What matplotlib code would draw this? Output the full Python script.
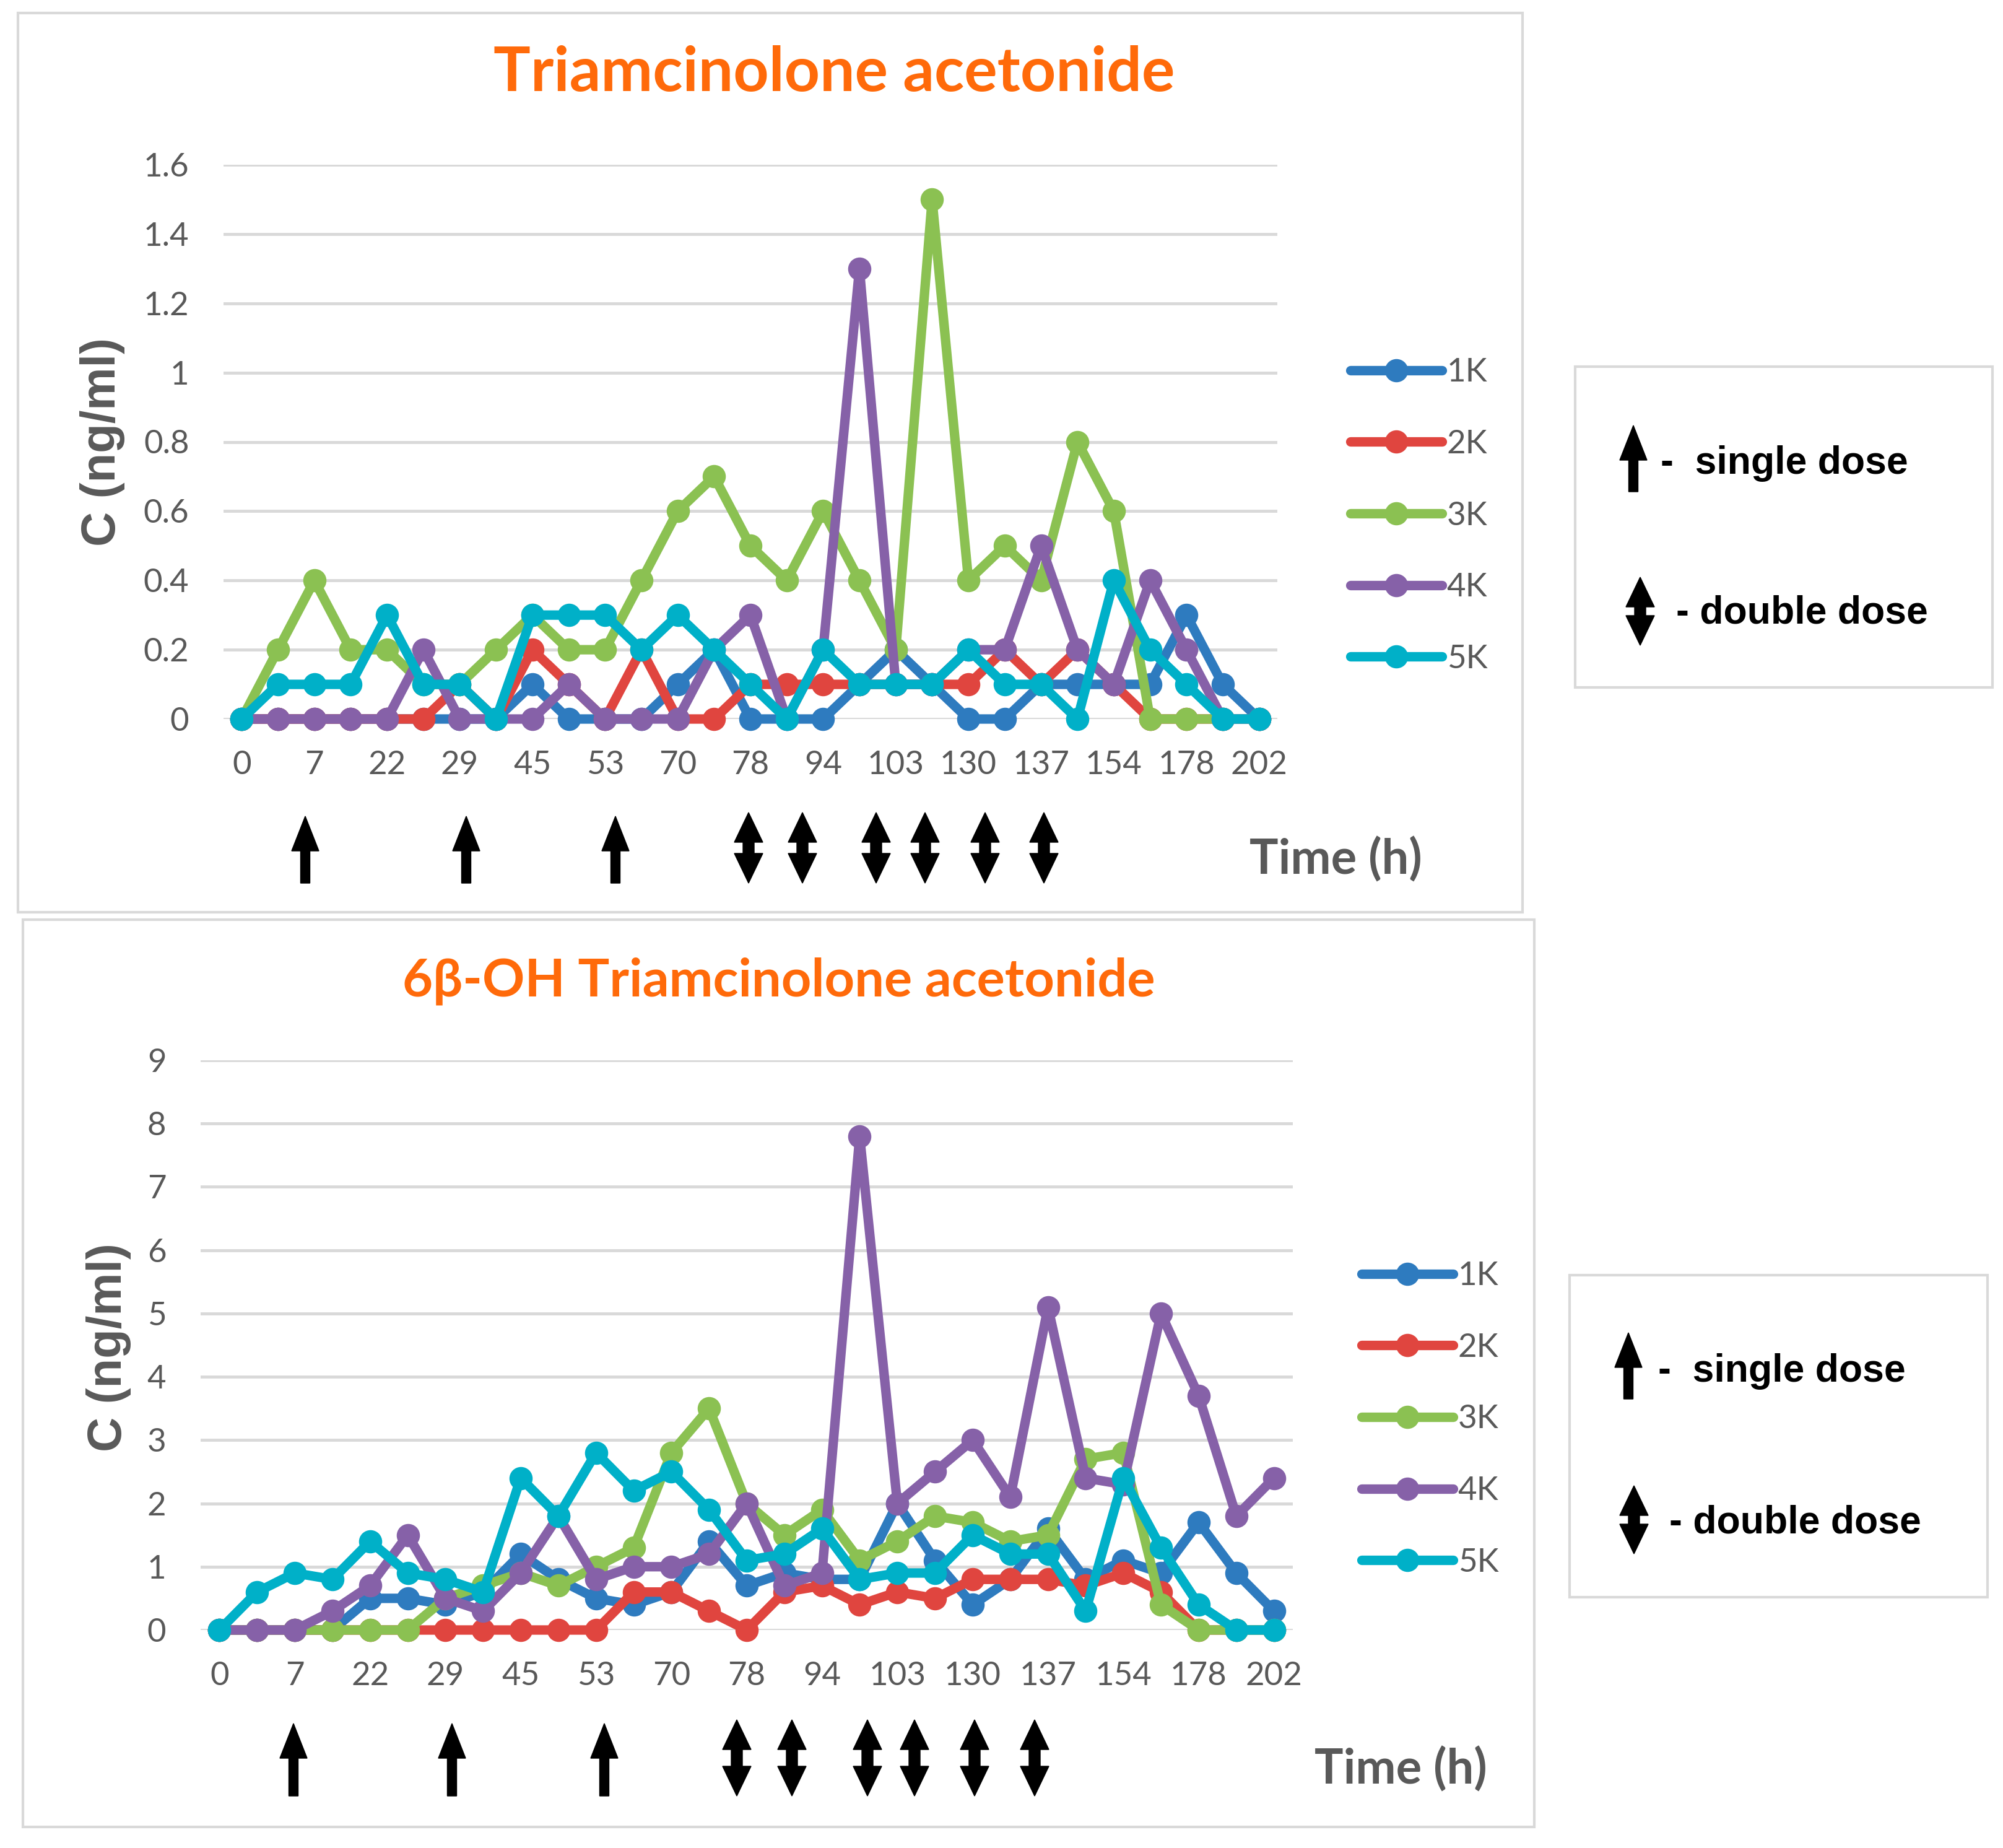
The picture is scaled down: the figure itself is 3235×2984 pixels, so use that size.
import numpy as np
import matplotlib
matplotlib.use("Agg")
import matplotlib.pyplot as plt
from matplotlib.patches import Polygon, Rectangle
from matplotlib.ticker import FormatStrFormatter

# Подписи оси времени (показаны через одну категорию, как в Excel)
time_labels = ["0", "7", "22", "29", "45", "53", "70", "78", "94", "103",
               "130", "137", "154", "178", "202"]
series_names = ["1K", "2K", "3K", "4K", "5K"]
colors = ["#2E7BBF", "#E0453F", "#8BC152", "#8661A8", "#00B0C8"]

# Triamcinolone acetonide, нг/мл
ta_1K = [0, 0, 0, 0, 0, 0, 0, 0, 0.1, 0, 0, 0, 0.1, 0.2, 0, 0, 0, 0.1, 0.2, 0.1,
         0, 0, 0.1, 0.1, 0.1, 0.1, 0.3, 0.1, 0]
ta_2K = [0, 0, 0, 0, 0, 0, 0.1, 0, 0.2, 0.1, 0, 0.2, 0, 0, 0.1, 0.1, 0.1, 0.1, 0.1, 0.1,
         0.1, 0.2, 0.1, 0.2, 0.1, 0, 0, 0, 0]
ta_3K = [0, 0.2, 0.4, 0.2, 0.2, 0.1, 0.1, 0.2, 0.3, 0.2, 0.2, 0.4, 0.6, 0.7, 0.5, 0.4, 0.6, 0.4, 0.2, 1.5,
         0.4, 0.5, 0.4, 0.8, 0.6, 0, 0, 0, 0]
ta_4K = [0, 0, 0, 0, 0, 0.2, 0, 0, 0, 0.1, 0, 0, 0, 0.2, 0.3, 0, 0.2, 1.3, 0.1, 0.1,
         0.2, 0.2, 0.5, 0.2, 0.1, 0.4, 0.2, 0, 0]
ta_5K = [0, 0.1, 0.1, 0.1, 0.3, 0.1, 0.1, 0, 0.3, 0.3, 0.3, 0.2, 0.3, 0.2, 0.1, 0, 0.2, 0.1, 0.1, 0.1,
         0.2, 0.1, 0.1, 0, 0.4, 0.2, 0.1, 0, 0]

# 6β-OH Triamcinolone acetonide, нг/мл
oh_1K = [0, 0, 0, 0, 0.5, 0.5, 0.4, 0.6, 1.2, 0.8, 0.5, 0.4, 0.6, 1.4, 0.7, 0.9, 0.8, 0.8, 2.0, 1.1,
         0.4, 0.8, 1.6, 0.8, 1.1, 0.9, 1.7, 0.9, 0.3]
oh_2K = [0, 0, 0, 0, 0, 0, 0, 0, 0, 0, 0, 0.6, 0.6, 0.3, 0, 0.6, 0.7, 0.4, 0.6, 0.5,
         0.8, 0.8, 0.8, 0.7, 0.9, 0.6, 0, 0, 0]
oh_3K = [0, 0, 0, 0, 0, 0, 0.5, 0.7, 0.9, 0.7, 1.0, 1.3, 2.8, 3.5, 2.0, 1.5, 1.9, 1.1, 1.4, 1.8,
         1.7, 1.4, 1.5, 2.7, 2.8, 0.4, 0, 0, 0]
oh_4K = [0, 0, 0, 0.3, 0.7, 1.5, 0.5, 0.3, 0.9, 1.8, 0.8, 1.0, 1.0, 1.2, 2.0, 0.7, 0.9, 7.8, 2.0, 2.5,
         3.0, 2.1, 5.1, 2.4, 2.3, 5.0, 3.7, 1.8, 2.4]
oh_5K = [0, 0.6, 0.9, 0.8, 1.4, 0.9, 0.8, 0.6, 2.4, 1.8, 2.8, 2.2, 2.5, 1.9, 1.1, 1.2, 1.6, 0.8, 0.9, 0.9,
         1.5, 1.2, 1.2, 0.3, 2.4, 1.3, 0.4, 0, 0]

W, H = 3235, 2984
GRAY = "#595959"
ORANGE = "#FF6A0A"
BORDER = "#D9D9D9"

fig = plt.figure(figsize=(W / 100, H / 100), dpi=100)
fig.patch.set_facecolor("white")


def fx(px):
    return px / W


def fy(py):
    return 1 - py / H


def rect_px(x0, y0, x1, y1, lw=3):
    fig.patches.append(Rectangle((fx(x0), fy(y1)), fx(x1) - fx(x0), fy(y0) - fy(y1),
                                 transform=fig.transFigure, fill=False,
                                 edgecolor=BORDER, linewidth=lw))


def up_arrow(cx, y_top, y_bot, hw=44, hl=56, sw=15):
    pts = [(cx, y_top), (cx + hw / 2, y_top + hl), (cx + sw / 2, y_top + hl),
           (cx + sw / 2, y_bot), (cx - sw / 2, y_bot), (cx - sw / 2, y_top + hl),
           (cx - hw / 2, y_top + hl)]
    fig.patches.append(Polygon([(fx(x), fy(y)) for x, y in pts], closed=True,
                               transform=fig.transFigure, color="black"))


def double_arrow(cx, y_top, y_bot, hw=46, hl=48, sw=18):
    pts = [(cx, y_top), (cx + hw / 2, y_top + hl), (cx + sw / 2, y_top + hl),
           (cx + sw / 2, y_bot - hl), (cx + hw / 2, y_bot - hl), (cx, y_bot),
           (cx - hw / 2, y_bot - hl), (cx - sw / 2, y_bot - hl),
           (cx - sw / 2, y_top + hl), (cx - hw / 2, y_top + hl)]
    fig.patches.append(Polygon([(fx(x), fy(y)) for x, y in pts], closed=True,
                               transform=fig.transFigure, color="black"))


def make_chart(box, data, ymax, ystep, title, title_xy, title_size,
               ylabel_xy, legend_xy, time_xy, singles, doubles, arr_y,
               dose_box, dose_items):
    x0, y0, x1, y1 = box
    ax = fig.add_axes([fx(x0), fy(y1), fx(x1) - fx(x0), fy(y0) - fy(y1)])
    n = len(data[0])
    x = np.arange(n)
    for vals, name, c in zip(data, series_names, colors):
        ax.plot(x, vals, color=c, lw=11, marker="o", ms=26, mfc=c, mec=c,
                label=name, clip_on=False, zorder=3, solid_capstyle="round",
                solid_joinstyle="round")
    ax.set_xlim(-0.5, n - 0.5)
    ax.set_ylim(0, ymax)
    ax.set_yticks(np.arange(0, ymax + ystep / 2, ystep))
    ax.yaxis.set_major_formatter(FormatStrFormatter("%g"))
    ax.set_xticks(np.arange(0, n, 2))
    ax.set_xticklabels(time_labels)
    ax.yaxis.grid(True, color=BORDER, lw=3.5)
    ax.set_axisbelow(True)
    for s in ax.spines.values():
        s.set_visible(False)
    ax.tick_params(axis="both", length=0, colors=GRAY, labelsize=38)
    ax.tick_params(axis="y", pad=40)
    ax.tick_params(axis="x", pad=37)
    for lab in ax.get_xticklabels() + ax.get_yticklabels():
        lab.set_family("Lato")

    fig.text(fx(title_xy[0]), fy(title_xy[1]), title, color=ORANGE,
             fontsize=title_size, fontweight="bold", family="Lato",
             ha="center", va="center")
    fig.text(fx(ylabel_xy[0]), fy(ylabel_xy[1]), "C (ng/ml)", color=GRAY,
             fontsize=56, fontweight="bold", family="Liberation Sans",
             rotation=90, ha="center", va="center")
    fig.text(fx(time_xy[0]), fy(time_xy[1]), "Time (h)", color=GRAY,
             fontsize=56, fontweight="bold", family="Lato",
             ha="left", va="center")

    leg = ax.legend(loc="center left", bbox_to_anchor=(fx(legend_xy[0]), fy(legend_xy[1])),
                    bbox_transform=fig.transFigure, frameon=False, fontsize=38,
                    handlelength=2.8, handletextpad=0.15, labelspacing=1.3,
                    borderpad=0, borderaxespad=0, markerscale=1.0)
    for t in leg.get_texts():
        t.set_color(GRAY)
        t.set_family("Lato")

    for cx in singles:
        up_arrow(cx, arr_y[0], arr_y[1])
    for cx in doubles:
        double_arrow(cx, arr_y[0] - 6, arr_y[1])

    rect_px(*dose_box, lw=3)
    (sa_x, sa_t, sa_b, st_x, st_y), (da_x, da_t, da_b, dt_x, dt_y) = dose_items
    up_arrow(sa_x, sa_t, sa_b)
    fig.text(fx(st_x), fy(st_y), "-  single dose", fontsize=45, fontweight="bold",
             family="Liberation Sans", ha="left", va="center", color="black")
    double_arrow(da_x, da_t, da_b)
    fig.text(fx(dt_x), fy(dt_y), "- double dose", fontsize=45, fontweight="bold",
             family="Liberation Sans", ha="left", va="center", color="black")
    return ax


# внешние рамки панелей
rect_px(29, 21, 2459, 1473)
rect_px(37, 1485, 2478, 2950)

make_chart(box=(361, 266, 2063, 1161),
           data=[ta_1K, ta_2K, ta_3K, ta_4K, ta_5K], ymax=1.6, ystep=0.2,
           title="Triamcinolone acetonide", title_xy=(1347, 118), title_size=72,
           ylabel_xy=(165, 714), legend_xy=(2181, 833), time_xy=(2018, 1388),
           singles=[493, 753, 994], doubles=[1209, 1296, 1415, 1494, 1591, 1686],
           arr_y=(1318, 1426), dose_box=(2544, 592, 3218, 1110),
           dose_items=[(2638, 687, 794, 2682, 749), (2649, 932, 1042, 2707, 990)])

make_chart(box=(324, 1712, 2088, 2632),
           data=[oh_1K, oh_2K, oh_3K, oh_4K, oh_5K], ymax=9, ystep=1,
           title="6β-OH Triamcinolone acetonide", title_xy=(1258, 1584), title_size=61,
           ylabel_xy=(175, 2176), legend_xy=(2199, 2292), time_xy=(2123, 2857),
           singles=[474, 730, 976], doubles=[1190, 1279, 1401, 1477, 1574, 1671],
           arr_y=(2783, 2900), dose_box=(2535, 2059, 3210, 2579),
           dose_items=[(2630, 2152, 2259, 2678, 2214), (2639, 2399, 2509, 2696, 2459)])

fig.savefig("out.png", dpi=100, facecolor="white")
